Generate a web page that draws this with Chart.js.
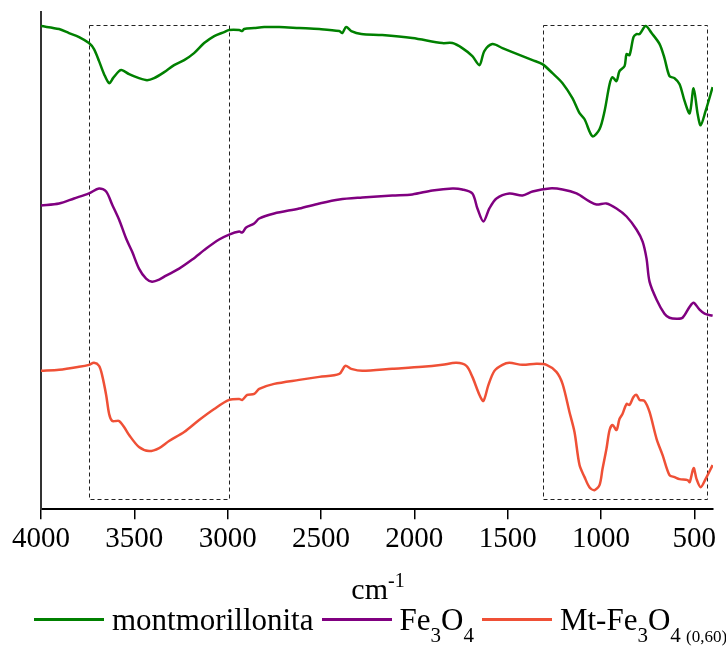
<!DOCTYPE html>
<html>
<head>
<meta charset="utf-8">
<script src="https://cdn.jsdelivr.net/npm/chart.js@4.4.1/dist/chart.umd.min.js"></script>
<style>
  body { margin: 0; background: #fff; }
  #wrap { position: relative; width: 726px; height: 646px; }
  #axisTitle { position: absolute; left: 0; width: 756px; top: 569px; text-align: center;
    font: 30px 'Liberation Serif'; color: #000; white-space: nowrap; }
  #axisTitle sup { font-size: 20px; vertical-align: 12px; }
  #legend { position: absolute; left: 34px; top: 603px; font: 31px 'Liberation Serif';
    line-height: 34px; color: #000; white-space: nowrap; }
  #legend .ln { display: inline-block; width: 70px; height: 3px; vertical-align: 9px; margin-right: 8px; }
  #legend .it { margin-right: 8px; }
  #legend sub { font-size: 21px; vertical-align: -12px; }
  #legend sub small { font-size: 17px; }
</style>
</head>
<body>
<div id="wrap">
  <canvas id="myChart" width="726" height="646"></canvas>
  <div id="axisTitle">cm<sup>-1</sup></div>
  <div id="legend"></div>
</div>
<script>
// x tick labels (cm-1)
const xTicks = [4000, 3500, 3000, 2500, 2000, 1500, 1000, 500]

// montmorillonita
const montWave = [4000,3903,3850,3796,3743,3716,3689,3662,3635,3614,3582,3566,3528,3475,3432,3394,3340,3287,3233,3180,3126,3072,3019,2992,2938,2922,2912,2858,2804,2724,2617,2509,2402,2386,2365,2338,2284,2172,2011,1850,1796,1743,1689,1651,1625,1582,1528,1475,1421,1367,1314,1260,1206,1153,1115,1088,1046,1008,981,954,938,917,901,874,863,847,826,810,793,761,729,686,660,633,606,579,552,525,504,482,466,440,402]
const montVals = [482,479,475,471,465,459,447,434,425,430,437,438,434,430,428,430,436,443,448,455,465,472,476,478,478,477,479,480,481,481,480,479,477,475,481,477,474,473,470,465,465,460,452,443,457,464,460,456,452,448,444,435,425,410,395,389,372,379,397,424,431,427,437,442,454,453,471,474,474,482,475,464,450,432,430,424,407,395,420,394,383,397,421]

// Fe3O4
const feWave = [4000,3903,3823,3743,3689,3651,3619,3582,3544,3512,3475,3437,3405,3367,3330,3260,3190,3115,3046,2992,2938,2922,2901,2858,2831,2751,2617,2509,2402,2279,2118,2011,1903,1796,1743,1689,1662,1630,1598,1560,1491,1421,1367,1276,1206,1131,1062,1024,971,917,863,810,777,756,740,702,660,633,595,563,525,504,472,445,402]
const feVals = [303,305,310,315,320,317,304,289,270,257,240,230,227,229,233,240,249,260,269,274,277,276,281,285,290,295,300,305,309,311,313,314,318,320,319,315,300,287,300,310,315,313,317,320,319,315,307,304,305,300,292,279,267,250,227,209,195,191,190,191,202,206,199,195,193]

// Mt-Fe3O4 (0,60)
const mtfeWave = [4000,3903,3796,3743,3716,3689,3673,3651,3635,3619,3598,3582,3555,3528,3475,3421,3367,3314,3233,3153,3072,2992,2938,2922,2895,2858,2831,2751,2617,2509,2402,2370,2338,2279,2118,1957,1850,1775,1721,1689,1651,1630,1603,1571,1528,1491,1421,1346,1292,1239,1206,1169,1142,1115,1088,1062,1035,1008,992,971,954,938,917,901,885,863,847,826,810,793,767,740,702,670,633,606,579,536,525,504,488,466,440,402]
const mtfeVals = [138,139,142,144,146,143,134,114,95,88,88,88,82,74,62,58,61,68,77,89,100,109,110,109,114,115,120,125,129,132,135,143,140,138,140,142,144,146,143,132,114,108,124,138,144,146,144,145,144,137,125,97,77,44,32,22,19,24,40,60,79,84,79,90,95,105,104,112,114,109,108,97,70,54,34,32,30,29,27,41,30,22,30,44]

// dashed regions (wavenumber ranges) and their vertical extent
const boxRanges = [[3743, 2992], [1311, 430]]
const boxLow = 10
const boxHigh = 483

const series = [
  {label: 'montmorillonita', html: 'montmorillonita', wave: montWave, vals: montVals, color: '#008000'},
  {label: 'Fe3O4', html: 'Fe<sub>3</sub>O<sub>4</sub>', wave: feWave, vals: feVals, color: '#800080'},
  {label: 'Mt-Fe3O4 (0,60)', html: 'Mt-Fe<sub>3</sub>O<sub>4 <small>(0,60)</small></sub>', wave: mtfeWave, vals: mtfeVals, color: '#ef5036'}
]

const ctx = document.getElementById('myChart')

const boxPlugin = {
  id: 'boxes',
  beforeDatasetsDraw(chart){
    const c = chart.ctx
    const xs = chart.scales.x, ys = chart.scales.y
    c.save()
    c.strokeStyle = '#222'
    c.lineWidth = 1
    c.setLineDash([4, 3])
    boxRanges.forEach(r => {
      const x1 = xs.getPixelForValue(r[0]), x2 = xs.getPixelForValue(r[1])
      const y1 = ys.getPixelForValue(boxHigh), y2 = ys.getPixelForValue(boxLow)
      c.strokeRect(Math.round(x1) + 0.5, Math.round(y1) + 0.5, Math.round(x2 - x1), Math.round(y2 - y1))
    })
    c.restore()
  }
}

new Chart(ctx, {
  type: 'line',
  data: {
    datasets: series.map(s => ({
      label: s.label,
      data: s.wave.map((w, i) => ({x: w, y: s.vals[i]})),
      borderColor: s.color,
      borderWidth: 2.5,
      pointRadius: 0,
      tension: 0.3,
      fill: false
    }))
  },
  options: {
    responsive: false,
    animation: false,
    layout: {padding: {left: 41, right: 13, top: 12, bottom: 86}},
    plugins: {legend: {display: false}, tooltip: {enabled: false}},
    scales: {
      x: {
        type: 'linear', reverse: true, min: 400, max: 4000,
        afterBuildTicks: s => { s.ticks = xTicks.map(v => ({value: v})) },
        ticks: {color: '#000', font: {family: 'Liberation Serif', size: 29}, padding: 3, maxRotation: 0, autoSkip: false,
          callback: v => String(v)},
        grid: {drawOnChartArea: false, tickLength: 10, color: '#000', lineWidth: 1.5},
        border: {color: '#000', width: 2}
      },
      y: {
        min: 0, max: 496,
        ticks: {display: false},
        grid: {display: false, drawTicks: false},
        border: {color: '#333', width: 2}
      }
    }
  },
  plugins: [boxPlugin]
})

const legend = document.getElementById('legend')
legend.innerHTML = series.map(s =>
  '<span class="ln" style="background:' + s.color + '"></span><span class="it">' + s.html + '</span>'
).join('')
</script>
</body>
</html>
